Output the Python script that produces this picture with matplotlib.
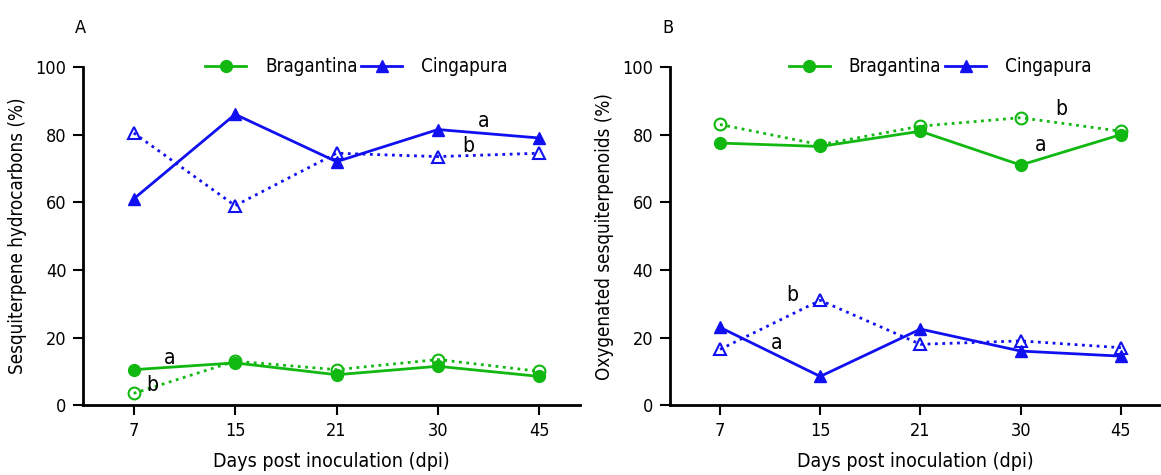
import matplotlib
matplotlib.use("Agg")
import matplotlib.pyplot as plt
from matplotlib.lines import Line2D

plt.rcParams['font.family'] = ['DejaVu Sans']
plt.rcParams['font.stretch'] = 'condensed'

# Days post inoculation (categorical)
days = ["7", "15", "21", "30", "45"]

# Panel A - sesquiterpene hydrocarbons (%)
a_brag_solid = [10.5, 12.5, 9.0, 11.5, 8.5]
a_brag_open = [3.5, 13.0, 10.5, 13.5, 10.0]
a_cing_solid = [61.0, 86.0, 72.0, 81.5, 79.0]
a_cing_open = [80.5, 59.0, 74.5, 73.5, 74.5]

# Panel B - oxygenated sesquiterpenoids (%)
b_brag_solid = [77.5, 76.5, 81.0, 71.0, 80.0]
b_brag_open = [83.0, 77.0, 82.5, 85.0, 81.0]
b_cing_solid = [23.0, 8.5, 22.5, 16.0, 14.5]
b_cing_open = [16.5, 31.0, 18.0, 19.0, 17.0]

# letters (x position, y value, text)
a_letters = [(3.45, 84.0, "a"), (3.3, 76.5, "b"), (0.35, 14.0, "a"), (0.18, 6.0, "b")]
b_letters = [(3.4, 87.5, "b"), (3.2, 77.0, "a"), (0.72, 32.5, "b"), (0.57, 18.5, "a")]

green = "#11b811"
blue = "#1010f0"


def draw_panel(ax, brag_s, brag_o, cing_s, cing_o, letters, ylabel, tag):
    x = range(len(days))
    ax.plot(x, brag_s, color=green, lw=2, marker="o", ms=8.5)
    ax.plot(x, brag_o, color=green, lw=2, ls=":", marker="o", ms=8.5,
            mfc="none", mew=1.5)
    ax.plot(x, cing_s, color=blue, lw=2, marker="^", ms=8.5)
    ax.plot(x, cing_o, color=blue, lw=2, ls=":", marker="^", ms=8.5,
            mfc="none", mew=1.5)
    for lx, ly, t in letters:
        ax.text(lx, ly, t, fontsize=15, ha="center", va="center")
    ax.set_xlim(-0.5, 4.4)
    ax.set_ylim(0, 100)
    ax.set_xticks(list(x))
    ax.set_xticklabels(days)
    ax.set_yticks([0, 20, 40, 60, 80, 100])
    ax.tick_params(labelsize=13, width=1.5, length=7, pad=5)
    ax.spines["top"].set_visible(False)
    ax.spines["right"].set_visible(False)
    ax.spines["left"].set_linewidth(2)
    ax.spines["bottom"].set_linewidth(2)
    ax.set_ylabel(ylabel, fontsize=13.5, labelpad=6)
    ax.set_xlabel("Days post inoculation (dpi)", fontsize=14, labelpad=9)
    ax.text(-0.016, 1.1, tag, transform=ax.transAxes, fontsize=13)
    handles = [Line2D([], [], color=green, lw=2, marker="o", ms=8.5),
               Line2D([], [], color=blue, lw=2, marker="^", ms=8.5)]
    ax.legend(handles, ["Bragantina", "Cingapura"], loc="center",
              bbox_to_anchor=(0.55, 1.0), ncol=2, frameon=False,
              fontsize=13.5, handlelength=2.2, handletextpad=1.0,
              columnspacing=0.2)


fig = plt.figure(figsize=(11.61, 4.75), dpi=100)
ax1 = fig.add_axes([0.0715, 0.147, 0.428, 0.712])
ax2 = fig.add_axes([0.577, 0.147, 0.423, 0.712])

draw_panel(ax1, a_brag_solid, a_brag_open, a_cing_solid, a_cing_open,
           a_letters, "Sesquiterpene hydrocarbons (%)", "A")
draw_panel(ax2, b_brag_solid, b_brag_open, b_cing_solid, b_cing_open,
           b_letters, "Oxygenated sesquiterpenoids (%)", "B")

fig.savefig("out.png", dpi=100)
